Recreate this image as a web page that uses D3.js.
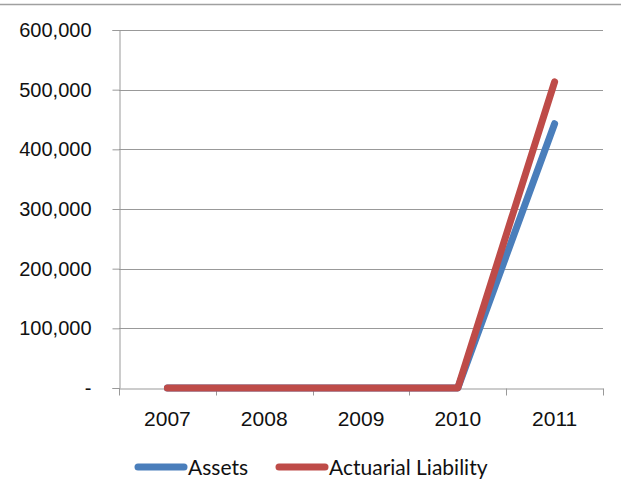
<!DOCTYPE html>
<html>
<head>
<meta charset="utf-8">
<script src="https://cdn.jsdelivr.net/npm/d3@7"></script>
<style>
  html, body { margin: 0; padding: 0; background: #fff; }
  svg { display: block; font-family: Lato, "Open Sans", "Liberation Sans", Arial, sans-serif; }
</style>
</head>
<body>
<svg id="chart"></svg>
<script>
// Data
const years = ["2007", "2008", "2009", "2010", "2011"];
const assets = [0, 0, 0, 0, 443000];
const liability = [0, 0, 0, 0, 513000];
const yTicks = [0, 100000, 200000, 300000, 400000, 500000, 600000];

const width = 621;
const height = 503;
const margin = { top: 30, right: 18, bottom: 115, left: 119 };

const svg = d3.select("#chart").attr("width", width).attr("height", height);

const x = d3.scaleBand()
  .domain(years)
  .range([margin.left, width - margin.right])
  .padding(0);

const y = d3.scaleLinear()
  .domain([0, 600000])
  .range([height - margin.bottom, margin.top]);

const fmt = d => d === 0 ? "-" : d3.format(",")(d);

// top border (chart is cropped just under its title)
svg.append("line")
  .attr("x1", 0).attr("x2", width)
  .attr("y1", 4.5).attr("y2", 4.5)
  .attr("stroke", "#a0a0a0").attr("stroke-width", 1.5);

// gridlines
svg.append("g")
  .selectAll("line")
  .data(yTicks.slice(1))
  .join("line")
  .attr("x1", margin.left).attr("x2", width - margin.right)
  .attr("y1", d => Math.round(y(d)) + 0.5).attr("y2", d => Math.round(y(d)) + 0.5)
  .attr("stroke", "#999").attr("stroke-width", 1);

// y axis
const yAxis = svg.append("g")
  .attr("transform", `translate(${margin.left + 0.5},0)`)
  .call(d3.axisLeft(y).tickValues(yTicks).tickFormat(fmt).tickSizeOuter(0).tickSize(7).tickPadding(21));
yAxis.select(".domain").attr("stroke", "#999");
yAxis.selectAll(".tick line").attr("stroke", "#999");
yAxis.selectAll(".tick text")
  .attr("fill", "#111")
  .style("font-size", "20px");

// x axis
const xAxis = svg.append("g")
  .attr("transform", `translate(0,${Math.round(y(0)) + 0.5})`)
  .call(d3.axisBottom(x).tickSize(0).tickSizeOuter(0).tickPadding(23));
xAxis.select(".domain").attr("stroke", "#999");
xAxis.selectAll(".tick text")
  .attr("fill", "#111")
  .style("font-size", "21px");

// tick marks at category boundaries
const bounds = years.map(d => x(d)).concat([x(years[years.length - 1]) + x.bandwidth()]);
xAxis.append("g")
  .selectAll("line")
  .data(bounds)
  .join("line")
  .attr("x1", d => Math.round(d) + 0.5).attr("x2", d => Math.round(d) + 0.5)
  .attr("y1", 0).attr("y2", 7)
  .attr("stroke", "#999");

// lines
const line = d3.line()
  .x((d, i) => x(years[i]) + x.bandwidth() / 2)
  .y(d => y(d));

const series = [
  { name: "Assets", values: assets, color: "#4a7ebb" },
  { name: "Actuarial Liability", values: liability, color: "#be4b48" }
];

svg.append("g")
  .selectAll("path")
  .data(series)
  .join("path")
  .attr("d", d => line(d.values))
  .attr("fill", "none")
  .attr("stroke", d => d.color)
  .attr("stroke-width", 7)
  .attr("stroke-linecap", "round")
  .attr("stroke-linejoin", "round");

// legend
const legendX = [135, 276];
const legend = svg.append("g")
  .selectAll("g")
  .data(series)
  .join("g")
  .attr("transform", (d, i) => `translate(${legendX[i]},467)`);
legend.append("line")
  .attr("x1", 3).attr("x2", 49)
  .attr("y1", 0).attr("y2", 0)
  .attr("stroke", d => d.color)
  .attr("stroke-width", 7)
  .attr("stroke-linecap", "round");
legend.append("text")
  .attr("x", 53).attr("y", 8)
  .attr("fill", "#111")
  .style("font-size", "21px")
  .text(d => d.name);
</script>
</body>
</html>
